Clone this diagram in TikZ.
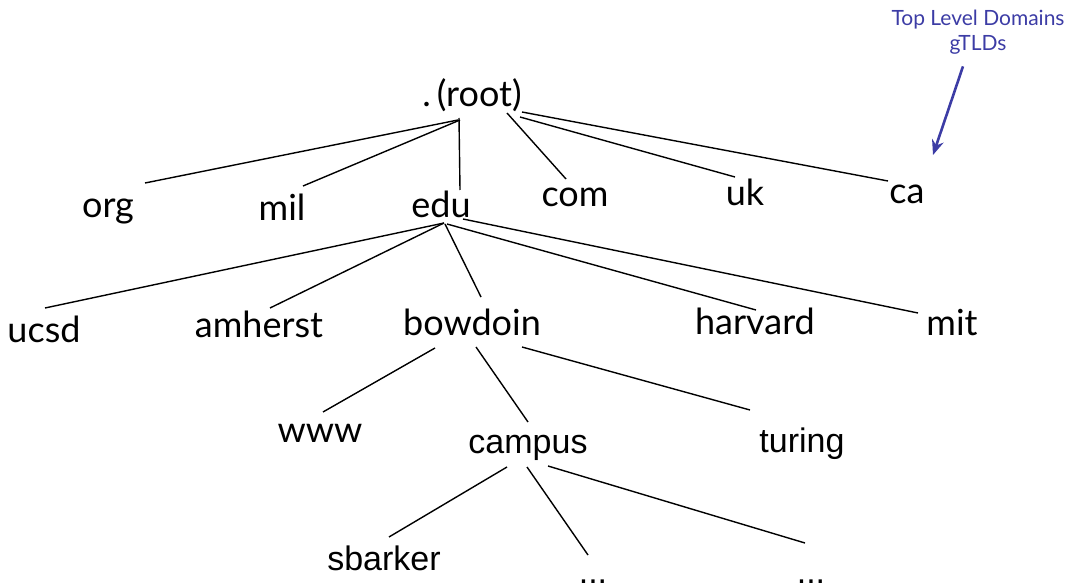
\documentclass[tikz,border=0pt]{standalone}
\usepackage{fontspec}
\setmainfont{Lato}
\newfontfamily\arialfont{Liberation Sans}
\usetikzlibrary{arrows.meta}
\definecolor{tldblue}{RGB}{60,60,165}
\tikzset{
  dom/.style={font=\fontsize{36}{40}\selectfont, inner sep=0pt, anchor=base},
  host/.style={font=\arialfont\fontsize{34}{38}\selectfont, inner sep=0pt, anchor=base},
  edge/.style={line width=1.4pt}
}

\begin{document}
\begin{tikzpicture}[x=1pt, y=-1pt]
\useasboundingbox (0,0) rectangle (1073,588);

\node[dom] (root) at (472,107) {.\,(root)};

\node[dom] (org) at (108,218) {org};
\node[dom] (mil) at (282,220) {mil};
\node[dom] (edu) at (441,218) {edu};
\node[dom] (com) at (575,207) {com};
\node[dom] (uk)  at (745,206) {uk};
\node[dom] (ca)  at (907,204) {ca};

\node[dom] (ucsd)    at (44,342)  {ucsd};
\node[dom] (amherst) at (259,337) {amherst};
\node[dom] (bowdoin) at (472,335) {bowdoin};
\node[dom] (harvard) at (755,334) {harvard};
\node[dom] (mit)     at (952,335) {mit};

\node[dom]  (www)    at (320,442) {www};
\node[host] (campus) at (528,453) {campus};
\node[host] (turing) at (802,452) {turing};

\node[host] (sbarker) at (384,570) {sbarker};
\node[host] (dotsa)   at (593,583) {...};
\node[host] (dotsb)   at (811,583) {...};

% root level
\draw[edge] ([shift={(-14,13)}]root.base) -- ([shift={(37,-35)}]org.base);
\draw[edge] ([shift={(-12,13)}]root.base) -- ([shift={(21,-34)}]mil.base);
\draw[edge] ([shift={(-13,11)}]root.base) -- ([shift={(19,-28)}]edu.base);
\draw[edge] ([shift={(35,6)}]root.base) -- ([shift={(-9,-28)}]com.base);
\draw[edge] ([shift={(48,10)}]root.base) -- ([shift={(-10,-29)}]uk.base);
\draw[edge] ([shift={(50,5)}]root.base) -- ([shift={(-19,-23)}]ca.base);

% edu
\draw[edge] ([shift={(3,5)}]edu.base) -- ([shift={(1,-34)}]ucsd.base);
\draw[edge] ([shift={(3,5)}]edu.base) -- ([shift={(11,-29)}]amherst.base);
\draw[edge] ([shift={(4,6)}]edu.base) -- ([shift={(9,-38)}]bowdoin.base);
\draw[edge] ([shift={(6,6)}]edu.base) -- ([shift={(1,-24)}]harvard.base);
\draw[edge] ([shift={(22,1)}]edu.base) -- ([shift={(-34,-22)}]mit.base);

% bowdoin
\draw[edge] ([shift={(-37,13)}]bowdoin.base) -- ([shift={(3,-30)}]www.base);
\draw[edge] ([shift={(4,12)}]bowdoin.base) -- ([shift={(0,-31)}]campus.base);
\draw[edge] ([shift={(50,12)}]bowdoin.base) -- ([shift={(-52,-42)}]turing.base);

% campus
\draw[edge] ([shift={(-21,14)}]campus.base) -- ([shift={(5,-33)}]sbarker.base);
\draw[edge] ([shift={(-1,14)}]campus.base) -- ([shift={(-5,-28)}]dotsa.base);
\draw[edge] ([shift={(20,13)}]campus.base) -- ([shift={(-6,-40)}]dotsb.base);

% TLD note
\node[text=tldblue, font=\fontsize{21}{25}\selectfont, align=center, inner sep=0pt] (tld) at (978,32) {Top Level Domains\\gTLDs};
\coordinate (tldtip) at (933,155);
\draw[tldblue, line width=2.6pt, -{Stealth[length=15pt,width=12pt]}] ([shift={(-15,12)}]tld.south) -- (tldtip);

\end{tikzpicture}
\end{document}
